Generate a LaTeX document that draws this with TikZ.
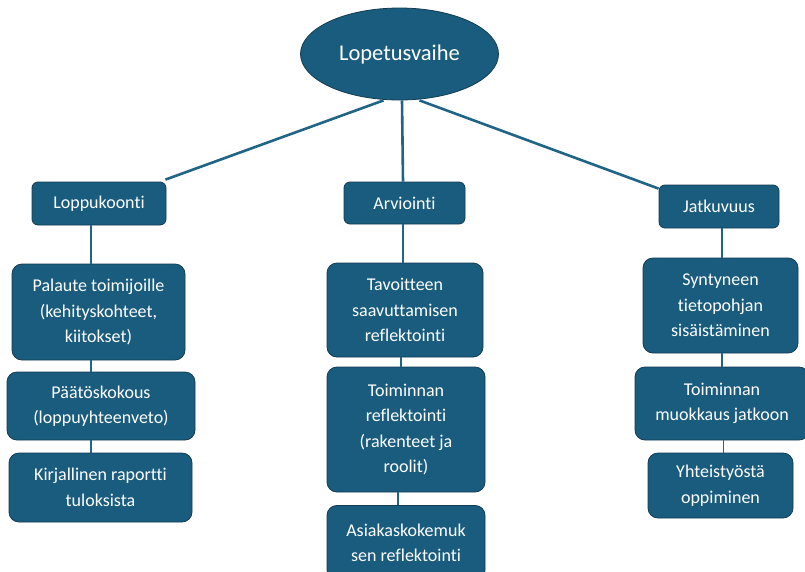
\documentclass[tikz,border=0pt]{standalone}
\usepackage{fontspec}
\setmainfont[Ligatures=NoCommon]{Carlito}
\usepackage{xcolor}
\usepackage{tikz}
\usetikzlibrary{shapes.geometric}
\definecolor{boxblue}{RGB}{26,92,126}
\definecolor{boxedge}{RGB}{18,60,82}
\definecolor{linkblue}{RGB}{32,100,134}
\tikzstyle{link} = [line width=2.6pt, draw=linkblue]

\begin{document}
\begin{tikzpicture}[
    x=1pt, y=-1pt,
    phase/.style={ellipse, draw=boxedge, fill=boxblue, text=white, line width=0.8pt,
      minimum width=198pt, minimum height=92pt, inner sep=0pt,
      font=\fontsize{22.5}{25}\selectfont},
    topic/.style={rectangle, rounded corners=6pt, draw=boxedge, fill=boxblue, text=white,
      line width=0.8pt, inner sep=0pt, align=center, font=\fontsize{18}{25.5}\selectfont},
    item/.style={topic, rounded corners=10pt},
    thin link/.style={link, line width=1.2pt},
  ]
  \useasboundingbox (0,0) rectangle (805,571);
  \clip (0,0) rectangle (805,571);
  \node[phase] (root) at (399.5,54) {Lopetusvaihe};

  \node[topic, minimum width=134pt, minimum height=43pt] (lopp) at (99,203.5) {Loppukoonti};
  \node[item, minimum width=173pt, minimum height=96pt] (palaute) at (98.5,312) {Palaute toimijoille\\(kehityskohteet,\\kiitokset)};
  \node[item, minimum width=188pt, minimum height=68pt] (paatos) at (101,406) {Päätöskokous\\(loppuyhteenveto)};
  \node[item, minimum width=183pt, minimum height=69pt] (raportti) at (100.5,487.5) {Kirjallinen raportti\\tuloksista};

  \node[topic, minimum width=121pt, minimum height=42pt] (arv) at (404.5,203) {Arviointi};
  \node[item, minimum width=156pt, minimum height=94pt] (tavoite) at (405,310) {Tavoitteen\\saavuttamisen\\reflektointi};
  \node[item, minimum width=158pt, minimum height=125pt] (toiminta) at (406,429.5) {Toiminnan\\reflektointi\\(rakenteet ja\\roolit)};
  \node[item, minimum width=158pt, minimum height=75pt, anchor=north] (asiakas) at (406,505) {Asiakaskokemuk\\sen reflektointi};

  \node[topic, minimum width=120pt, minimum height=43pt] (jatk) at (719,206.5) {Jatkuvuus};
  \node[item, minimum width=155pt, minimum height=95pt] (tieto) at (720.5,305.5) {Syntyneen\\tietopohjan\\sisäistäminen};
  \node[item, minimum width=174pt, minimum height=73pt] (muokkaus) at (722,403.5) {Toiminnan\\muokkaus jatkoon};
  \node[item, minimum width=145pt, minimum height=65pt] (oppi) at (720.5,485.5) {Yhteistyöstä\\oppiminen};

  \draw[link] ([xshift=-16pt]root.south) -- ([xshift=-1pt,yshift=2pt]lopp.north east);
  \draw[link] ([xshift=2.5pt]root.south) -- ([xshift=-1.5pt]arv.north);
  \draw[link] ([xshift=20pt]root.south) -- ([yshift=-4pt]jatk.north west);

  \draw[thin link] ([xshift=-8pt]lopp.south) -- ([xshift=-8pt]lopp.south |- palaute.north);
  \draw[thin link] ([xshift=-7.5pt]palaute.south) -- ([xshift=-7.5pt]palaute.south |- paatos.north);
  \draw[thin link] ([xshift=-10pt]paatos.south) -- ([xshift=-10pt]paatos.south |- raportti.north);

  \draw[thin link] ([xshift=-1.5pt]arv.south) -- ([xshift=-1.5pt]arv.south |- tavoite.north);
  \draw[thin link] ([xshift=-4pt]tavoite.south) -- ([xshift=-4pt]tavoite.south |- toiminta.north);
  \draw[thin link] ([xshift=-8pt]toiminta.south) -- ([xshift=-8pt]toiminta.south |- asiakas.north);

  \draw[thin link] ([xshift=3pt]jatk.south) -- ([xshift=3pt]jatk.south |- tieto.north);
  \draw[thin link] ([xshift=1.5pt]tieto.south) -- ([xshift=1.5pt]tieto.south |- muokkaus.north);
  \draw[thin link] ([xshift=1.5pt]muokkaus.south) -- ([xshift=1.5pt]muokkaus.south |- oppi.north);
\end{tikzpicture}
\end{document}
